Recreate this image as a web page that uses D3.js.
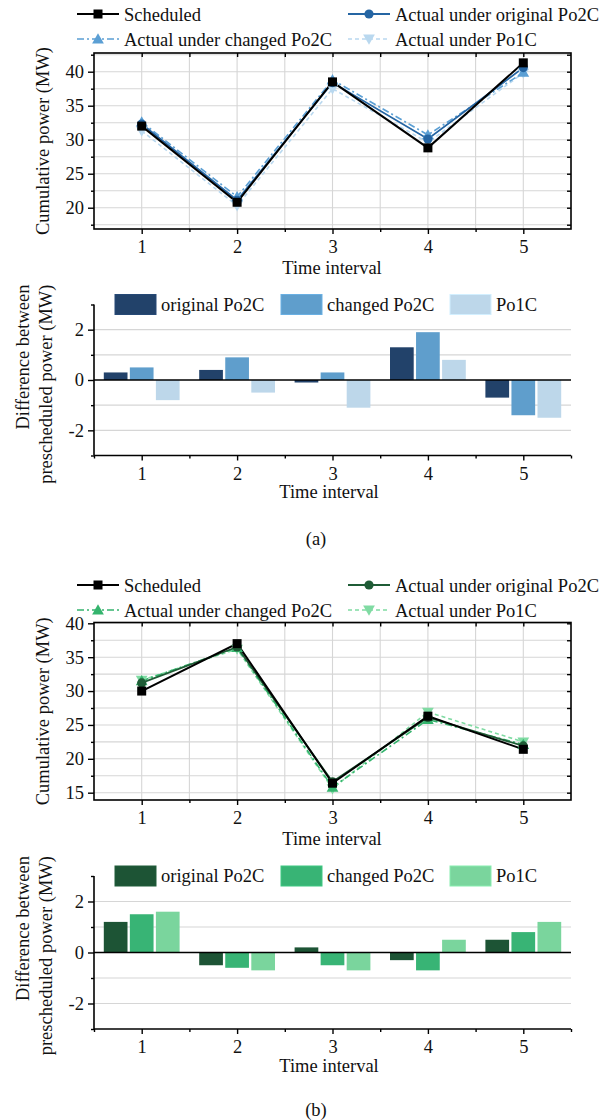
<!DOCTYPE html>
<html><head><meta charset="utf-8">
<script src="https://cdn.jsdelivr.net/npm/d3@7"></script>
<style>
html,body{margin:0;padding:0;background:#fff;}
svg text{font-family:"Liberation Serif","Times New Roman",serif;fill:#111;}
</style></head>
<body><svg id="c" width="616" height="1120"></svg>
<script>
// ---------- data ----------
const categories = [1, 2, 3, 4, 5];
const lineSeriesNames = ["Scheduled", "Actual under original Po2C", "Actual under changed Po2C", "Actual under Po1C"];
const barSeriesNames = ["original Po2C", "changed Po2C", "Po1C"];

// panel (a)
const schedA   = [32.0, 20.8, 38.5, 28.8, 41.3];
const origA    = [32.3, 21.1, 38.4, 30.1, 40.6];
const changedA = [32.6, 21.6, 38.8, 30.7, 39.9];
const po1cA    = [31.3, 20.3, 37.5, 29.6, 39.8];
const diffOrigA    = [0.3, 0.4, -0.1, 1.3, -0.7];
const diffChangedA = [0.5, 0.9, 0.3, 1.9, -1.4];
const diffPo1cA    = [-0.8, -0.5, -1.1, 0.8, -1.5];
const lineTicksA = [20, 25, 30, 35, 40];

// panel (b)
const schedB   = [30.0, 37.0, 16.4, 26.3, 21.4];
const origB    = [31.2, 36.5, 16.6, 26.1, 21.9];
const changedB = [31.5, 36.4, 15.8, 25.8, 22.1];
const po1cB    = [31.6, 36.2, 15.6, 26.9, 22.5];
const diffOrigB    = [1.2, -0.5, 0.2, -0.3, 0.5];
const diffChangedB = [1.5, -0.6, -0.5, -0.7, 0.8];
const diffPo1cB    = [1.6, -0.7, -0.7, 0.5, 1.2];
const lineTicksB = [15, 20, 25, 30, 35, 40];

const barTicks = [-2, 0, 2];
const xTickLabels = ["1", "2", "3", "4", "5"];

// ---------- drawing ----------
const svg = d3.select("#c");
const FS = "18.5px";
const L = 94, R = 571;
const GRID = "#d6d6d6";

function marker(g, type, x, y, color) {
  if (type === "square") {
    g.append("rect").attr("x", x - 4.5).attr("y", y - 4.5).attr("width", 9).attr("height", 9).attr("fill", color);
  } else if (type === "circle") {
    g.append("circle").attr("cx", x).attr("cy", y).attr("r", 4.6).attr("fill", color);
  } else if (type === "up") {
    g.append("path").attr("d", d3.symbol(d3.symbolTriangle, 60)()).attr("transform", `translate(${x},${y + 1})`).attr("fill", color);
  } else if (type === "down") {
    g.append("path").attr("d", d3.symbol(d3.symbolTriangle, 60)()).attr("transform", `translate(${x},${y - 1}) rotate(180)`).attr("fill", color);
  }
}

function panel(cfg) {
  const g = svg.append("g");
  const oy = cfg.oy;
  const x = d3.scaleLinear().domain([0.5, 5.5]).range([L, R]);

  // ---- legend (lines) ----
  const styles = [
    {color: "#000", dash: null, m: "square", w: 2},
    {color: cfg.c[0], dash: null, m: "circle", w: 1.8},
    {color: cfg.c[1], dash: "7,3,2,3", m: "up", w: 1.6},
    {color: cfg.c[2], dash: "4,3", m: "down", w: 1.6}
  ];
  const legPos = [[77, oy + 14], [348, oy + 14], [77, oy + 39], [348, oy + 39]];
  lineSeriesNames.forEach((name, i) => {
    const [lx, ly] = legPos[i];
    const s = styles[i];
    g.append("line").attr("x1", lx).attr("x2", lx + 42).attr("y1", ly).attr("y2", ly)
      .attr("stroke", s.color).attr("stroke-width", s.w).attr("stroke-dasharray", s.dash);
    marker(g, s.m, lx + 21, ly, s.color);
    g.append("text").attr("x", lx + 47).attr("y", ly + 6.5).style("font-size", FS).text(name);
  });

  // ---- line plot ----
  const y = d3.scaleLinear().domain(cfg.yDom).range([cfg.yBot, cfg.yTop]);
  const top = cfg.yTop, bot = cfg.yBot;
  const gridY = d3.range(Math.ceil(cfg.yDom[0] / 2.5) * 2.5, cfg.yDom[1] + 0.001, 2.5);
  g.selectAll(null).data(gridY).enter().append("line")
    .attr("x1", L).attr("x2", R).attr("y1", d => y(d)).attr("y2", d => y(d))
    .attr("stroke", GRID).attr("stroke-width", 1.1);
  const gridX = d3.range(1, 5.01, 0.5);
  g.selectAll(null).data(gridX).enter().append("line")
    .attr("y1", top).attr("y2", bot).attr("x1", d => x(d)).attr("x2", d => x(d))
    .attr("stroke", GRID).attr("stroke-width", 1.1);

  const seriesData = [cfg.sched, cfg.orig, cfg.changed, cfg.po1c];
  const order = [3, 2, 1, 0];
  const lineGen = d3.line().x((d, i) => x(categories[i])).y(d => y(d));
  order.forEach(k => {
    const s = styles[k];
    g.append("path").datum(seriesData[k]).attr("d", lineGen).attr("fill", "none")
      .attr("stroke", s.color).attr("stroke-width", s.w).attr("stroke-dasharray", s.dash);
  });
  order.forEach(k => {
    const s = styles[k];
    seriesData[k].forEach((v, i) => marker(g, s.m, x(categories[i]), y(v), s.color));
  });

  g.append("rect").attr("x", L).attr("y", top).attr("width", R - L).attr("height", bot - top)
    .attr("fill", "none").attr("stroke", "#000").attr("stroke-width", 1.6);
  const yAxis = d3.axisLeft(y).tickValues(cfg.lineTicks).tickFormat(d => String(d)).tickSize(6).tickPadding(4);
  const ga = g.append("g").attr("transform", `translate(${L},0)`).call(yAxis);
  const minorY = gridY.filter(v => Math.abs(v % 5) > 0.1);
  const gm = g.append("g").attr("transform", `translate(${L},0)`).call(d3.axisLeft(y).tickValues(minorY).tickSize(3).tickFormat(""));
  const gr = g.append("g").attr("transform", `translate(${R},0)`).call(d3.axisRight(y).tickValues(gridY).tickSize(-4).tickFormat(""));
  const xAxis = d3.axisBottom(x).tickValues(categories).tickFormat((d, i) => xTickLabels[i]).tickSize(5).tickPadding(6);
  const gb = g.append("g").attr("transform", `translate(0,${bot})`).call(xAxis);
  const gbm = g.append("g").attr("transform", `translate(0,${bot})`).call(d3.axisBottom(x).tickValues([1.5, 2.5, 3.5, 4.5]).tickSize(3).tickFormat(""));
  const gt = g.append("g").attr("transform", `translate(0,${top})`).call(d3.axisTop(x).tickValues(gridX).tickSize(-4).tickFormat(""));
  [ga, gm, gr, gb, gbm, gt].forEach(a => {
    a.select(".domain").remove();
    a.selectAll("line").attr("stroke", "#000").attr("stroke-width", 1.4);
    a.selectAll("text").style("font-size", FS).attr("fill", "#111");
  });
  gb.selectAll("text").attr("dy", "0.71em");

  g.append("text").attr("x", 332).attr("y", bot + 44.5).attr("text-anchor", "middle").style("font-size", FS).text("Time interval");
  g.append("text").attr("transform", `translate(49,${(top + bot) / 2}) rotate(-90)`).attr("text-anchor", "middle")
    .style("font-size", FS).text("Cumulative power (MW)");

  // ---- bar plot ----
  const b0 = cfg.barTop, b1 = cfg.barBot;
  const yb = d3.scaleLinear().domain([-3, 3]).range([b1, b0]);
  const inner = d3.scaleBand().domain([0, 1, 2]).range([-37.9, 37.9]).paddingInner(0.09);
  g.selectAll(null).data([-2, -1, 1, 2]).enter().append("line")
    .attr("x1", L).attr("x2", R).attr("y1", d => yb(d)).attr("y2", d => yb(d))
    .attr("stroke", GRID).attr("stroke-width", 1.1);
  const legX = [115, 281, 450];
  barSeriesNames.forEach((name, i) => {
    g.append("rect").attr("x", legX[i]).attr("y", b0 - 10).attr("width", 41).attr("height", 20)
      .attr("fill", cfg.bc[i]).attr("stroke", d3.color(cfg.bc[i]).brighter(0.3)).attr("stroke-width", 1);
    g.append("text").attr("x", legX[i] + 46).attr("y", b0 + 6).style("font-size", FS).text(name);
  });
  const barData = [cfg.d0, cfg.d1, cfg.d2];
  barData.forEach((arr, k) => {
    g.selectAll(null).data(arr).enter().append("rect")
      .attr("x", (d, i) => x(categories[i]) + inner(k))
      .attr("width", inner.bandwidth())
      .attr("y", d => yb(Math.max(0, d)))
      .attr("height", d => Math.abs(yb(d) - yb(0)))
      .attr("fill", cfg.bc[k]);
  });
  g.append("line").attr("x1", L).attr("x2", R).attr("y1", yb(0)).attr("y2", yb(0)).attr("stroke", "#000").attr("stroke-width", 1.5);
  const bl = g.append("g").attr("transform", `translate(${L},0)`).call(d3.axisLeft(yb).tickValues(barTicks).tickFormat(d => String(d)).tickSize(6).tickPadding(4));
  const blm = g.append("g").attr("transform", `translate(${L},0)`).call(d3.axisLeft(yb).tickValues([-3, -1, 1, 3]).tickSize(3).tickFormat(""));
  const bb = g.append("g").attr("transform", `translate(0,${b1})`).call(d3.axisBottom(x).tickValues(categories).tickFormat((d, i) => xTickLabels[i]).tickSize(5).tickPadding(6));
  const bbm = g.append("g").attr("transform", `translate(0,${b1})`).call(d3.axisBottom(x).tickValues([0.5, 1.5, 2.5, 3.5, 4.5, 5.5]).tickSize(3).tickFormat(""));
  [bl, blm, bb, bbm].forEach(a => {
    a.select(".domain").attr("stroke", "#000").attr("stroke-width", 1.6);
    a.selectAll("line").attr("stroke", "#000").attr("stroke-width", 1.4);
    a.selectAll("text").style("font-size", FS).attr("fill", "#111");
  });
  blm.select(".domain").remove(); bbm.select(".domain").remove();
  bl.select(".domain").attr("d", `M0,${b0}V${b1}`);
  bb.select(".domain").attr("d", `M${L},0H${R}`);
  bb.selectAll("text").attr("dy", "0.71em");
  g.append("text").attr("x", 329).attr("y", b1 + 42.5).attr("text-anchor", "middle").style("font-size", FS).text("Time interval");
  const yEnd = b0 - 20;
  g.append("text").attr("transform", `translate(29,${yEnd}) rotate(-90)`).attr("text-anchor", "end").style("font-size", FS).text("Difference between");
  g.append("text").attr("transform", `translate(52,${yEnd}) rotate(-90)`).attr("text-anchor", "end").style("font-size", FS).text("prescheduled power (MW)");

  g.append("text").attr("x", 316).attr("y", cfg.capY).attr("text-anchor", "middle").style("font-size", FS).text(cfg.cap);
}

panel({
  oy: 0, yDom: [16.87, 42.75], yTop: 53, yBot: 229, lineTicks: lineTicksA,
  sched: schedA, orig: origA, changed: changedA, po1c: po1cA,
  c: ["#2565a3", "#5b9fd4", "#b9d8ef"],
  bc: ["#22426a", "#5f9ecc", "#bdd7ea"],
  d0: diffOrigA, d1: diffChangedA, d2: diffPo1cA,
  barTop: 304.5, barBot: 455.5, capY: 545, cap: "(a)"
});
panel({
  oy: 571, yDom: [13.92, 40.12], yTop: 622.5, yBot: 800, lineTicks: lineTicksB,
  sched: schedB, orig: origB, changed: changedB, po1c: po1cB,
  c: ["#1f5c36", "#34b46d", "#80dba3"],
  bc: ["#1d5435", "#38b475", "#7ad59d"],
  d0: diffOrigB, d1: diffChangedB, d2: diffPo1cB,
  barTop: 876, barBot: 1029, capY: 1116, cap: "(b)"
});
</script></body></html>
